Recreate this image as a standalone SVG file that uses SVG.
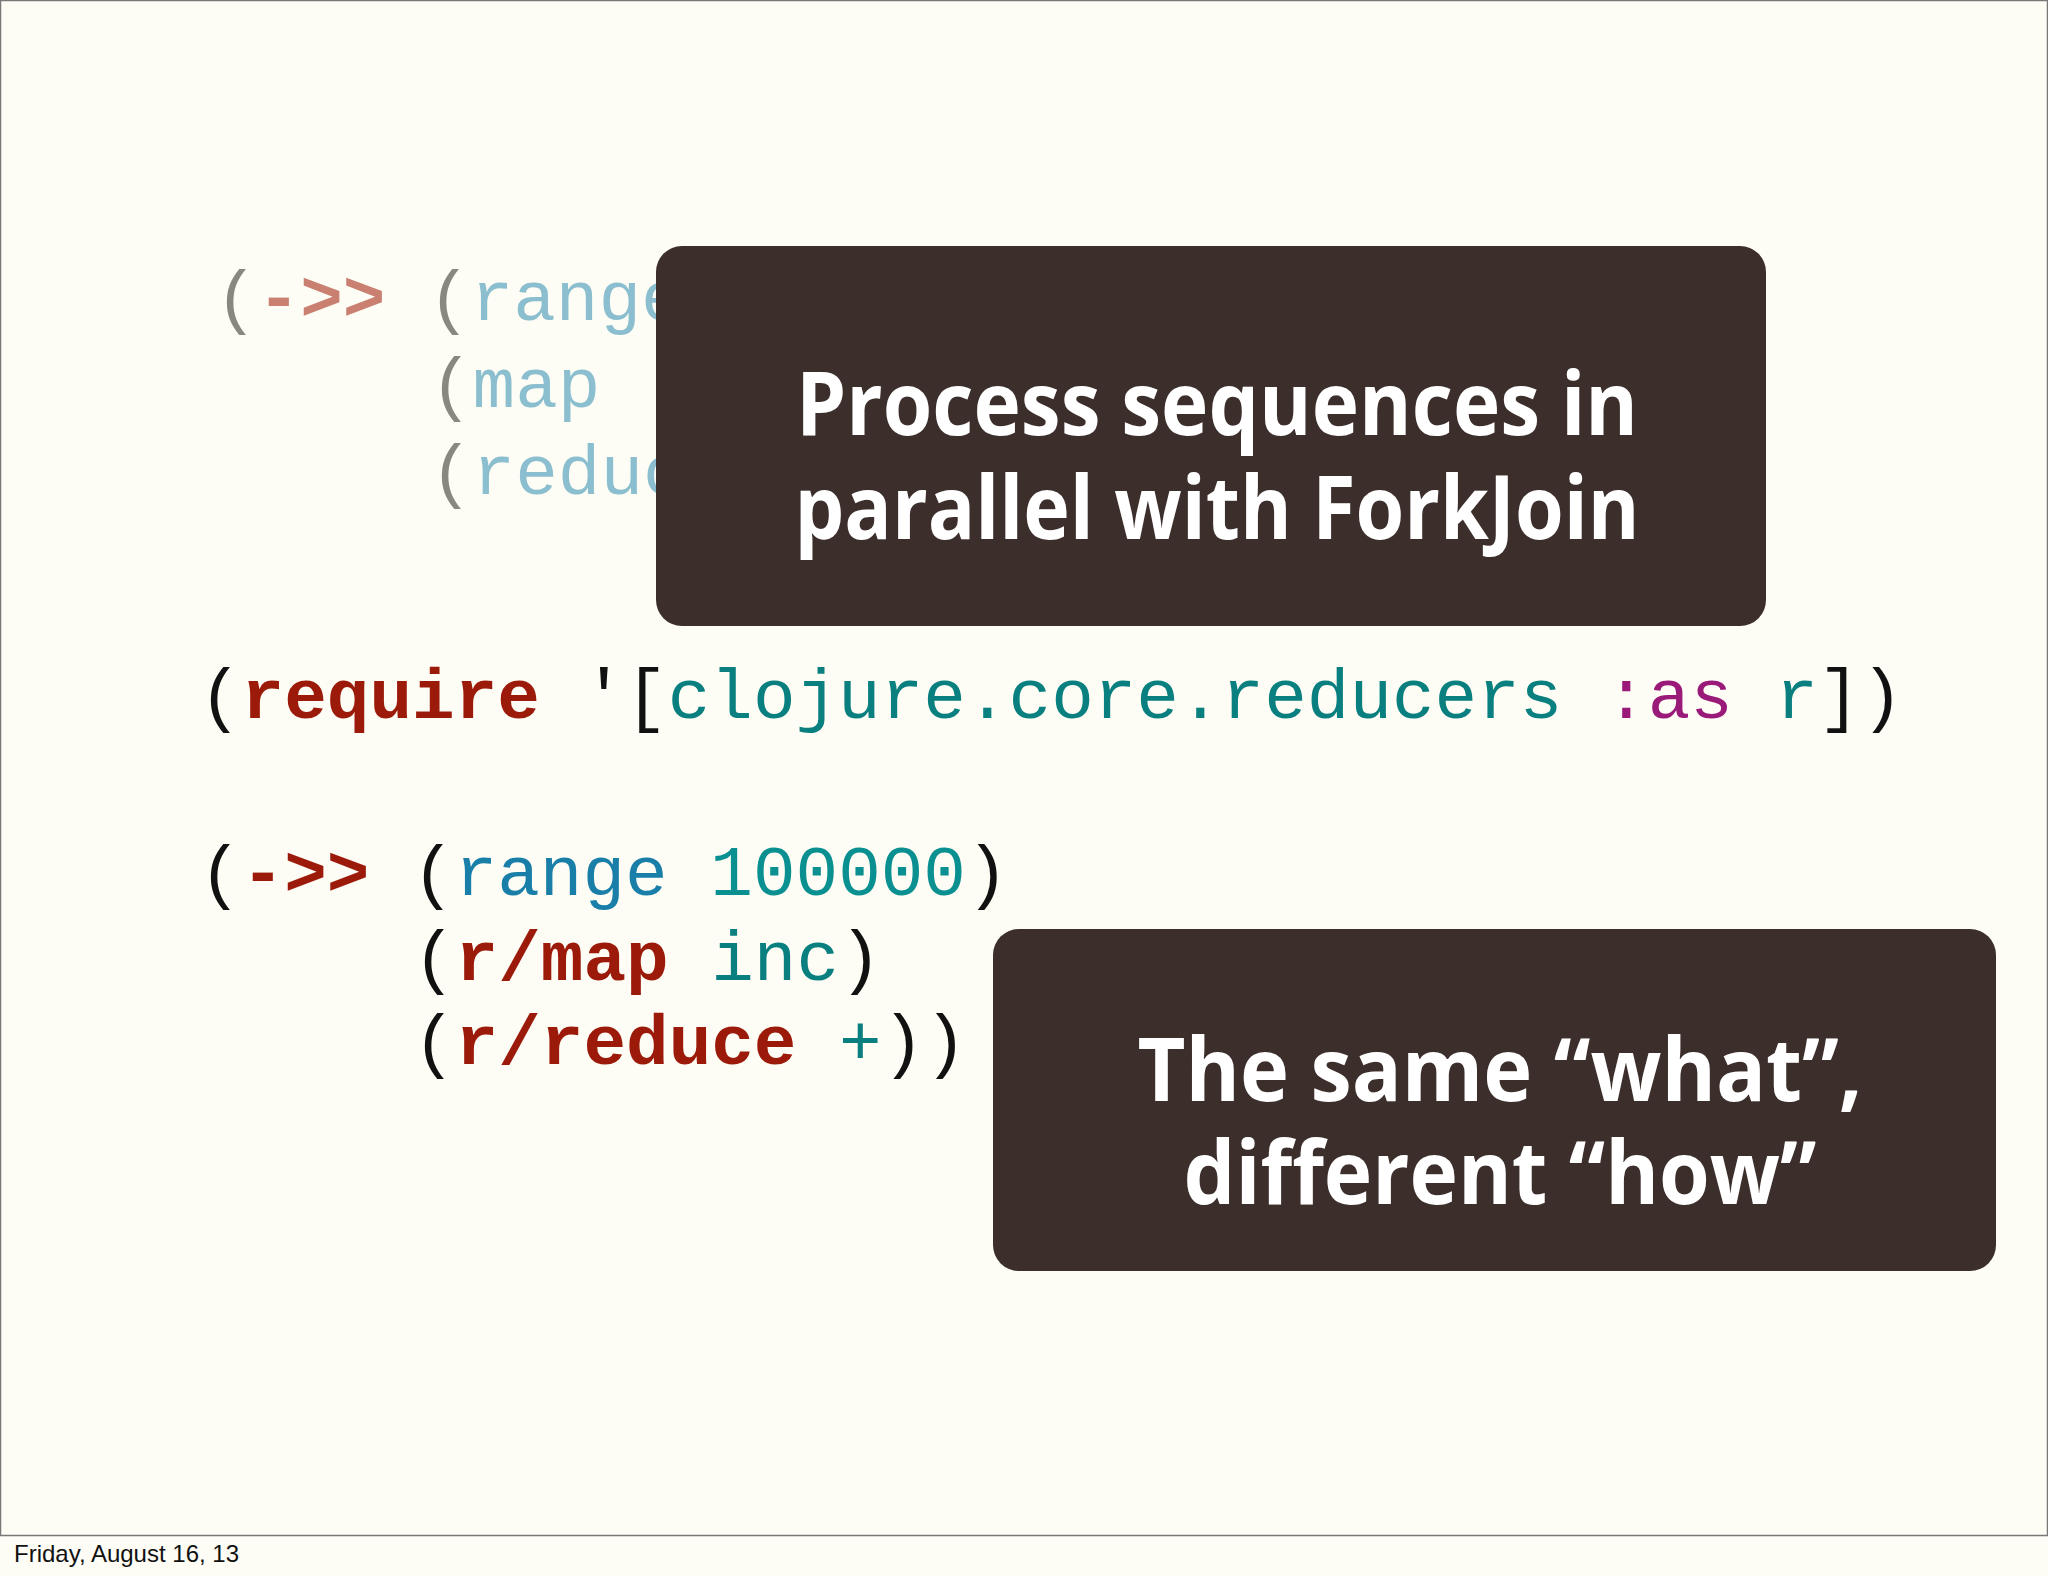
<svg xmlns="http://www.w3.org/2000/svg" width="2048" height="1576" viewBox="0 0 2048 1576">
<style>
.code{font-family:"Liberation Mono",monospace;font-size:71px;white-space:pre}
.b{font-weight:bold}
.title{font-family:"Open Sans","Liberation Sans",sans-serif;font-weight:bold;font-size:88px;fill:#ffffff;text-anchor:middle}
.box{fill:#3b2e2b}
</style>
<rect x="0" y="0" width="2048" height="1576" fill="#fefdf5"/>
<rect x="0.5" y="0.5" width="2047" height="1535" fill="none" stroke="#777" stroke-width="1.5"/>
<g id="faded-code">
<text class="code" x="215" y="320" xml:space="preserve"><tspan fill="#888880">(</tspan><tspan class="b" fill="#c98070">-&gt;&gt;</tspan> <tspan fill="#888880">(</tspan><tspan fill="#8bbfcf">range</tspan></text>
<text class="code" x="430" y="407" xml:space="preserve"><tspan fill="#888880">(</tspan><tspan fill="#8bbfcf">map</tspan></text>
<text class="code" x="430" y="494" xml:space="preserve"><tspan fill="#888880">(</tspan><tspan fill="#8bbfcf">reduce</tspan></text>
</g>
<g id="box1">
<rect class="box" x="656" y="246" width="1110" height="380" rx="26"/>
<text class="title" x="1217" y="435" textLength="842" lengthAdjust="spacingAndGlyphs">Process sequences in</text>
<text class="title" x="1217" y="539" textLength="845" lengthAdjust="spacingAndGlyphs">parallel with ForkJoin</text>
</g>
<g id="code">
<text class="code" x="199" y="718" xml:space="preserve"><tspan fill="#111">(</tspan><tspan class="b" fill="#9b1a0a">require</tspan> <tspan fill="#111">'[</tspan><tspan fill="#0a7f7f">clojure.core.reducers</tspan> <tspan fill="#9a1a7a">:as</tspan> <tspan fill="#0a7f7f">r</tspan><tspan fill="#111">])</tspan></text>
<text class="code" x="199" y="895" xml:space="preserve"><tspan fill="#111">(</tspan><tspan class="b" fill="#9b1a0a">-&gt;&gt;</tspan> <tspan fill="#111">(</tspan><tspan fill="#1a7fa8">range</tspan> <tspan fill="#0a9090">100000</tspan><tspan fill="#111">)</tspan></text>
<text class="code" x="413" y="980" xml:space="preserve"><tspan fill="#111">(</tspan><tspan class="b" fill="#9b1a0a">r/map</tspan> <tspan fill="#0a7f7f">inc</tspan><tspan fill="#111">)</tspan></text>
<text class="code" x="413" y="1064" xml:space="preserve"><tspan fill="#111">(</tspan><tspan class="b" fill="#9b1a0a">r/reduce</tspan> <tspan fill="#0a7f7f">+</tspan><tspan fill="#111">))</tspan></text>
</g>
<g id="box2">
<rect class="box" x="993" y="929" width="1003" height="342" rx="26"/>
<text class="title" x="1500" y="1101" textLength="725" lengthAdjust="spacingAndGlyphs">The same “what”,</text>
<text class="title" x="1500" y="1204" textLength="633" lengthAdjust="spacingAndGlyphs">different “how”</text>
</g>
<text x="14" y="1562" font-family="Liberation Sans,sans-serif" font-size="24" fill="#111">Friday, August 16, 13</text>
</svg>
